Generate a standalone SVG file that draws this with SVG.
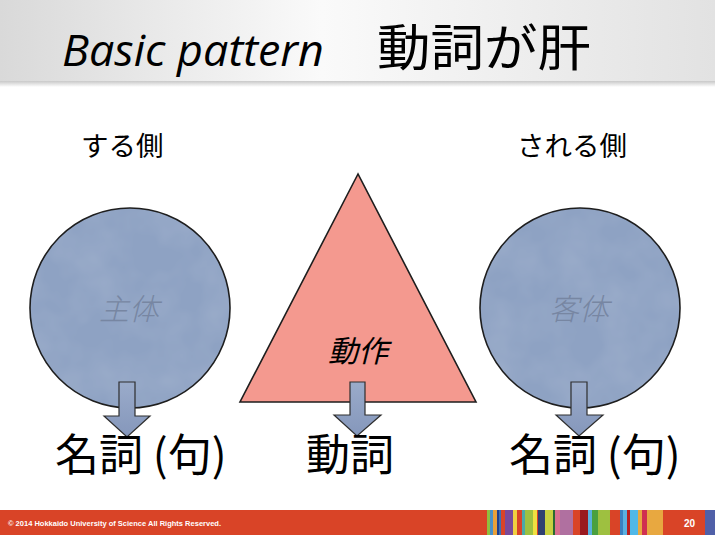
<svg xmlns="http://www.w3.org/2000/svg" width="715" height="535" viewBox="0 0 715 535">
<style>
.jp{font-family:"Noto Sans CJK JP","Noto Sans",sans-serif;fill:#000}
.lbl{font-size:27.5px}
.big{font-size:44px}
.inner{font-size:30px;font-style:italic}
.shape{stroke:#1e1e1e;stroke-width:1.6}
.arrow{fill:url(#arrowGrad);stroke:#2e2e2e;stroke-width:1.2}
.foot{font-family:"Liberation Sans",Arial,sans-serif;fill:#fff;font-weight:bold}
</style>
<defs>
<linearGradient id="hdr" x1="0" y1="0" x2="1" y2="0">
<stop offset="0" stop-color="#d9d9d9"/>
<stop offset="0.45" stop-color="#fafafa"/>
<stop offset="1" stop-color="#e2e2e2"/>
</linearGradient>
<linearGradient id="hdrShadow" x1="0" y1="0" x2="0" y2="1">
<stop offset="0" stop-color="#c8c8c8"/>
<stop offset="1" stop-color="#ffffff"/>
</linearGradient>
<linearGradient id="arrowGrad" x1="0" y1="0" x2="0" y2="1">
<stop offset="0" stop-color="#9aabca"/>
<stop offset="1" stop-color="#8597bb"/>
</linearGradient>
<filter id="tex" x="0" y="0" width="100%" height="100%">
<feTurbulence type="fractalNoise" baseFrequency="0.025" numOctaves="3" seed="4" result="n"/>
<feColorMatrix in="n" type="matrix" values="0 0 0 0 1  0 0 0 0 1  0 0 0 0 1  0 0 0 0.18 -0.06"/>
<feComposite in2="SourceGraphic" operator="in"/>
</filter>
</defs>
<rect x="0" y="0" width="715" height="535" fill="#ffffff"/>
<g id="header">
<rect x="0" y="0" width="715" height="81" fill="url(#hdr)"/>
<rect x="0" y="81" width="715" height="6" fill="url(#hdrShadow)"/>
<text x="62" y="66" font-family="'Open Sans','Noto Sans',sans-serif" font-style="italic" font-size="44" textLength="262" lengthAdjust="spacingAndGlyphs" fill="#000">Basic pattern</text>
<text class="jp" x="377" y="66" font-size="50" textLength="214" lengthAdjust="spacingAndGlyphs">動詞が肝</text>
</g>
<g id="label-suru">
<text class="jp lbl" x="81" y="156">する側</text>
</g>
<g id="label-sareru">
<text class="jp lbl" x="517" y="156">される側</text>
</g>
<g id="subject">
<circle cx="130" cy="308" r="100" fill="#8ea2c3"/>
<circle cx="130" cy="308" r="100" fill="#8ea2c3" filter="url(#tex)"/>
<circle class="shape" cx="130" cy="308" r="100" fill="none"/>
<text class="jp inner" x="129" y="320" text-anchor="middle" style="fill:#7786a2;font-weight:300">主体</text>
</g>
<g id="action">
<polygon class="shape" points="358,174 240,402 476,402" fill="#f4998f"/>
<text class="jp inner" x="358" y="362" text-anchor="middle">動作</text>
</g>
<g id="object">
<circle cx="580" cy="308" r="100" fill="#8ea2c3"/>
<circle cx="580" cy="308" r="100" fill="#8ea2c3" filter="url(#tex)"/>
<circle class="shape" cx="580" cy="308" r="100" fill="none"/>
<text class="jp inner" x="579" y="320" text-anchor="middle" style="fill:#7786a2;font-weight:300">客体</text>
</g>
<g id="connectors">
<polygon class="arrow" points="119,382 135,382 135,416 150,416 127,437 104,416 119,416"/>
<polygon class="arrow" points="350,382 365,382 365,415 381,415 357,436 334,415 350,415"/>
<polygon class="arrow" points="571,382 587,382 587,415 603,415 579,436 556,415 571,415"/>
</g>
<g id="noun1">
<text class="jp big" x="55" y="471">名詞 (句)</text>
</g>
<g id="verb">
<text class="jp big" x="306" y="471">動詞</text>
</g>
<g id="noun2">
<text class="jp big" x="509" y="471">名詞 (句)</text>
</g>
<g id="footer">
<rect x="0" y="510" width="715" height="25" fill="#d94427"/>
<rect x="487" y="510" width="3" height="25" fill="#8fbf3f"/>
<rect x="490" y="510" width="3" height="25" fill="#4a90c8"/>
<rect x="493" y="510" width="4" height="25" fill="#e8a03a"/>
<rect x="497" y="510" width="2" height="25" fill="#1f3f8f"/>
<rect x="499" y="510" width="2" height="25" fill="#3a6fb0"/>
<rect x="505" y="510" width="8" height="25" fill="#7a4a9a"/>
<rect x="513" y="510" width="4" height="25" fill="#f0d040"/>
<rect x="522" y="510" width="3" height="25" fill="#4aa8a8"/>
<rect x="525" y="510" width="8" height="25" fill="#9ec040"/>
<rect x="533" y="510" width="4" height="25" fill="#f0e040"/>
<rect x="538" y="510" width="7" height="25" fill="#304070"/>
<rect x="545" y="510" width="8" height="25" fill="#c8d040"/>
<rect x="553" y="510" width="2" height="25" fill="#2a6a30"/>
<rect x="555" y="510" width="5" height="25" fill="#d87090"/>
<rect x="560" y="510" width="13" height="25" fill="#b070a0"/>
<rect x="580" y="510" width="8" height="25" fill="#9a1a20"/>
<rect x="588" y="510" width="4" height="25" fill="#5ab0e0"/>
<rect x="592" y="510" width="6" height="25" fill="#4aa040"/>
<rect x="598" y="510" width="12" height="25" fill="#9ec040"/>
<rect x="620" y="510" width="3" height="25" fill="#3a80c0"/>
<rect x="623" y="510" width="4" height="25" fill="#5ab0e0"/>
<rect x="627" y="510" width="3" height="25" fill="#b82020"/>
<rect x="630" y="510" width="8" height="25" fill="#50b8e8"/>
<rect x="638" y="510" width="4" height="25" fill="#e8a840"/>
<rect x="642" y="510" width="5" height="25" fill="#d03050"/>
<rect x="647" y="510" width="16" height="25" fill="#e8a840"/>
<rect x="705" y="510" width="10" height="25" fill="#5060a8"/>
<text class="foot" x="8" y="526" font-size="7.5" textLength="213" lengthAdjust="spacingAndGlyphs">© 2014 Hokkaido University of Science  All Rights Reserved.</text>
<text class="foot" x="684" y="527" font-size="10">20</text>
</g>
</svg>
